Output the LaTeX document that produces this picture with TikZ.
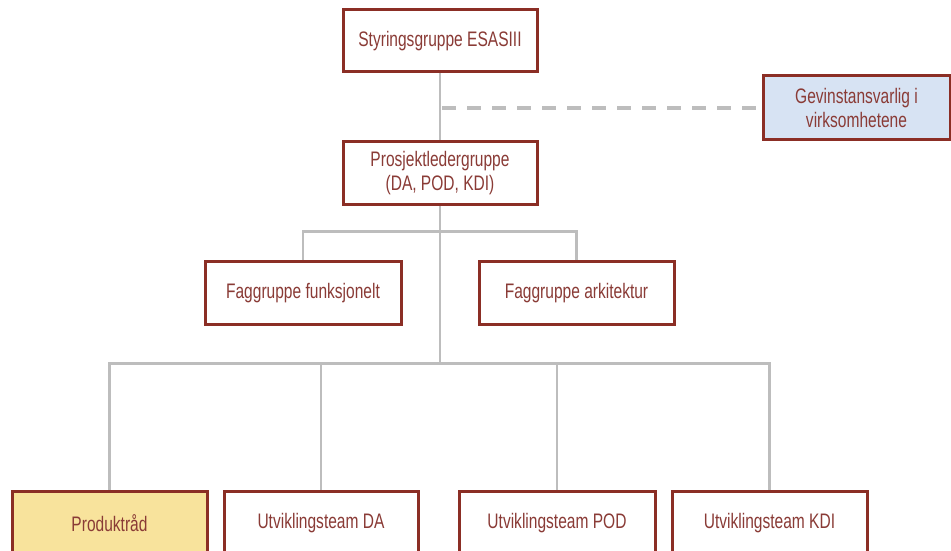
\documentclass[tikz,border=0pt]{standalone}
\usepackage{fontspec}
\setmainfont[FakeStretch=0.74]{Liberation Sans}
\usetikzlibrary{backgrounds}
\definecolor{boxborder}{HTML}{8B2E25}
\definecolor{boxtext}{HTML}{8A3B36}
\definecolor{linegray}{HTML}{BDBDBD}
\definecolor{prodfill}{HTML}{F8E39C}
\definecolor{gevfill}{HTML}{D7E3F3}
\begin{document}
\begin{tikzpicture}[x=1pt,y=1pt,
  orgbox/.style={draw=boxborder, line width=3pt, fill=white, text=boxtext,
    font=\fontsize{21}{24}\selectfont, align=center, inner sep=0pt,
    minimum width=195pt, minimum height=63pt},
  conn/.style={draw=linegray, line width=2.5pt},
  dashconn/.style={draw=linegray, line width=4pt, dash pattern=on 14pt off 11pt}]
\useasboundingbox (0,0) rectangle (951,551);
\node[orgbox, minimum width=194pt, minimum height=62pt] (sty) at (440,510) {Styringsgruppe ESASIII};
\node[orgbox, fill=gevfill, minimum width=187pt, minimum height=64pt] (gev) at (856.5,443) {Gevinstansvarlig i\\virksomhetene};
\node[orgbox, minimum width=194pt] (pro) at (440,377.5) {Prosjektledergruppe\\(DA, POD, KDI)};
\node[orgbox, minimum width=196pt] (fagf) at (303,257.5) {Faggruppe funksjonelt};
\node[orgbox] (faga) at (576.5,257.5) {Faggruppe arkitektur};
\node[orgbox, fill=prodfill] (prod) at (109.5,27.5) {Produktråd};
\node[orgbox, minimum width=194pt] (da) at (321,27.5) {Utviklingsteam DA};
\node[orgbox, minimum width=196pt] (pod) at (557,27.5) {Utviklingsteam POD};
\node[orgbox] (kdi) at (769.5,27.5) {Utviklingsteam KDI};
\coordinate (hub) at (440,186);
\begin{scope}[on background layer]
\draw[conn] (sty.south) -- (pro.north);
\draw[conn] (pro.south) -- (hub);
\draw[conn] (fagf.north) -- ++(0,29) -| (faga.north);
\draw[conn] (prod.north) -- ++(0,127) -| (kdi.north);
\draw[conn] (da.north) -- (da.north |- hub);
\draw[conn] (pod.north) -- (pod.north |- hub);
\draw[dashconn] (sty.south |- gev.west) ++(2,0) -- (gev.west);
\end{scope}
\end{tikzpicture}
\end{document}
